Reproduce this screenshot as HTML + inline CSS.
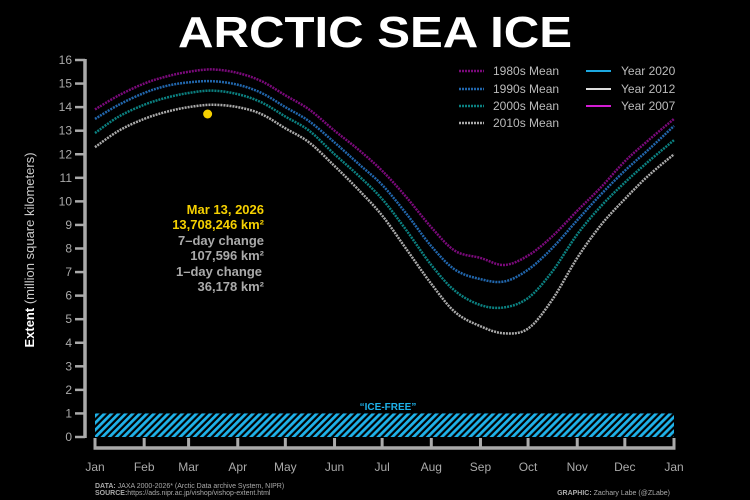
<!DOCTYPE html>
<html><head><meta charset="utf-8"><style>
html,body{margin:0;padding:0;background:#000;}
svg{display:block;font-family:"Liberation Sans",sans-serif;}
</style></head><body>
<svg id="chart" width="750" height="500" viewBox="0 0 750 500">
<defs>
<pattern id="hatch" width="5" height="5" patternUnits="userSpaceOnUse" patternTransform="rotate(45)">
<rect width="5" height="5" fill="#000"/><rect width="2.8" height="5" fill="#1fb2ea"/>
</pattern>
</defs>
<text x="375" y="47" text-anchor="middle" fill="#fff" font-weight="bold" font-size="44" textLength="394" lengthAdjust="spacingAndGlyphs">ARCTIC SEA ICE</text>
<g id="axes"></g>
<g id="series"></g>
<g font-size="12" fill="#bbb">
<line x1="459" y1="71" x2="484" y2="71" stroke="#7a0a7a" stroke-width="2.5" stroke-dasharray="2,1"/>
<text x="493" y="75">1980s Mean</text>
<line x1="459" y1="89" x2="484" y2="89" stroke="#2166ac" stroke-width="2.5" stroke-dasharray="2,1"/>
<text x="493" y="93">1990s Mean</text>
<line x1="459" y1="106" x2="484" y2="106" stroke="#0b8080" stroke-width="2.5" stroke-dasharray="2,1"/>
<text x="493" y="110">2000s Mean</text>
<line x1="459" y1="123" x2="484" y2="123" stroke="#aaa" stroke-width="2.5" stroke-dasharray="2,1"/>
<text x="493" y="127">2010s Mean</text>
<line x1="586" y1="71" x2="611" y2="71" stroke="#1ca8e0" stroke-width="2"/>
<text x="621" y="75">Year 2020</text>
<line x1="586" y1="89" x2="611" y2="89" stroke="#ddd" stroke-width="2"/>
<text x="621" y="93">Year 2012</text>
<line x1="586" y1="106" x2="611" y2="106" stroke="#d21cd2" stroke-width="2"/>
<text x="621" y="110">Year 2007</text>
</g>
<g font-size="13" font-weight="bold" text-anchor="end">
<text x="264" y="214" fill="#f5d000">Mar 13, 2026</text>
<text x="264" y="229" fill="#f5d000">13,708,246 km²</text>
<text x="264" y="245" fill="#aaa">7–day change</text>
<text x="264" y="260" fill="#aaa">107,596 km²</text>
<text x="262" y="276" fill="#aaa">1–day change</text>
<text x="264" y="291" fill="#aaa">36,178 km²</text>
</g>
<text x="388" y="410" text-anchor="middle" fill="#1fb2ea" font-size="10" font-weight="bold">“ICE-FREE”</text>
<text x="34" y="250" transform="rotate(-90 34 250)" text-anchor="middle" fill="#fff" font-size="13"><tspan font-weight="bold">Extent</tspan> <tspan fill="#ccc">(million square kilometers)</tspan></text>
<g font-size="7" fill="#aaa">
<text x="95" y="488"><tspan font-weight="bold">DATA:</tspan> JAXA 2000-2026* (Arctic Data archive System, NIPR)</text>
<text x="95" y="495"><tspan font-weight="bold">SOURCE:</tspan>https://ads.nipr.ac.jp/vishop/vishop-extent.html</text>
<text x="670" y="495" text-anchor="end"><tspan font-weight="bold">GRAPHIC:</tspan> Zachary Labe (@ZLabe)</text>
</g>
</svg>
<script>
const days = [0,15,31,45,59,74,90,105,120,135,151,166,181,196,212,227,243,258,273,288,304,319,334,349,365];
const mean1980s = [13.9,14.5,15.0,15.3,15.5,15.6,15.45,15.1,14.5,13.9,13.0,12.2,11.3,10.2,8.9,7.9,7.6,7.3,7.7,8.5,9.6,10.6,11.7,12.6,13.5];
const mean1990s = [13.5,14.1,14.6,14.9,15.05,15.1,14.95,14.6,14.0,13.4,12.5,11.6,10.7,9.5,8.1,7.1,6.7,6.6,7.1,8.0,9.2,10.3,11.3,12.2,13.2];
const mean2000s = [12.9,13.6,14.1,14.4,14.6,14.7,14.55,14.2,13.6,13.0,12.0,11.1,10.1,8.8,7.3,6.2,5.6,5.5,5.9,7.0,8.6,9.8,10.8,11.7,12.6];
const mean2010s = [12.3,13.0,13.5,13.8,14.0,14.1,14.0,13.7,13.1,12.5,11.5,10.5,9.4,8.0,6.5,5.3,4.7,4.4,4.6,5.8,7.6,9.0,10.1,11.1,12.0];
const currentDay = 71;
const currentValue = 13.708;
const yTicks = [0,1,2,3,4,5,6,7,8,9,10,11,12,13,14,15,16];
const monthLabels = ["Jan","Feb","Mar","Apr","May","Jun","Jul","Aug","Sep","Oct","Nov","Dec","Jan"];
const monthStarts = [0,31,59,90,120,151,181,212,243,273,304,334,365];

const NS="http://www.w3.org/2000/svg";
const X0=95,X1=674,Y0=437,Y1=60;
const xs=d=>X0+(X1-X0)*d/365;
const ys=v=>Y0-(Y0-Y1)*v/16;
function mk(tag,attrs,parent){const e=document.createElementNS(NS,tag);for(const k in attrs)e.setAttribute(k,attrs[k]);parent.appendChild(e);return e;}
const axes=document.getElementById('axes'), series=document.getElementById('series');

const band=mk('rect',{x:xs(0),y:ys(1),width:xs(365)-xs(0),height:ys(0)-ys(1),fill:'url(#hatch)'},axes);



const yl=mk('line',{x1:85,y1:ys(16)-1,x2:85,y2:ys(0)+1,stroke:'#aaa','stroke-width':3.5},axes);


yTicks.forEach(t=>{
  mk('line',{x1:75,y1:ys(t),x2:85,y2:ys(t),stroke:'#aaa','stroke-width':2.5},axes);
  const tx=mk('text',{x:72,y:ys(t)+4,'text-anchor':'end',fill:'#aaa','font-size':12},axes);
  tx.textContent=t;
  
  
});
const xl=mk('line',{x1:xs(0)-1.5,y1:448,x2:xs(365)+1.5,y2:448,stroke:'#aaa','stroke-width':3.5},axes);


monthStarts.forEach((d,i)=>{
  mk('line',{x1:xs(d),y1:438,x2:xs(d),y2:448,stroke:'#aaa','stroke-width':3},axes);
  const tx=mk('text',{x:xs(d),y:471,'text-anchor':'middle',fill:'#aaa','font-size':12},axes);
  tx.textContent=monthLabels[i];
  
  
});

function pathFor(vals){
  const p=days.map((d,i)=>[xs(d),ys(vals[i])]);
  let s='M'+p[0][0]+','+p[0][1];
  for(let i=0;i<p.length-1;i++){
    const a=p[Math.max(0,i-1)],b=p[i],c=p[i+1],d=p[Math.min(p.length-1,i+2)];
    s+=' C'+(b[0]+(c[0]-a[0])/6)+','+(b[1]+(c[1]-a[1])/6)+' '+(c[0]-(d[0]-b[0])/6)+','+(c[1]-(d[1]-b[1])/6)+' '+c[0]+','+c[1];
  }
  return s;
}
[[mean1980s,'#7a0a7a','line-1980s-mean'],[mean1990s,'#2166ac','line-1990s-mean'],[mean2000s,'#0b8080','line-2000s-mean'],[mean2010s,'#aaa','line-2010s-mean']].forEach(([v,c,n])=>{
  const e=mk('path',{d:pathFor(v),fill:'none',stroke:c,'stroke-width':2.5,'stroke-dasharray':'2,1'},series);
  
  
});
const pt=mk('circle',{cx:xs(currentDay),cy:ys(currentValue),r:4.5,fill:'#f5d000'},series);


</script>
</body></html>
